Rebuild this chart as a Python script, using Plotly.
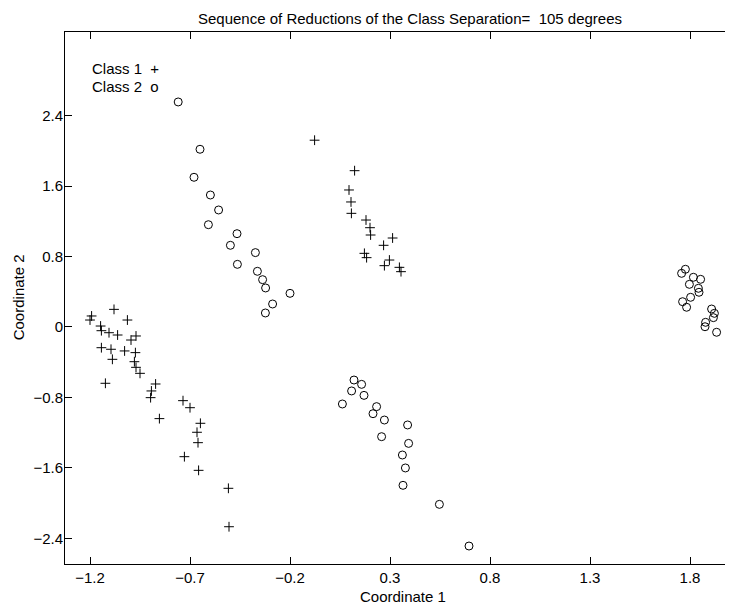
import plotly.graph_objects as go

# ---- data ----
class1_x = [-1.192, -1.2, -1.08, -1.013, -1.147, -1.143, -1.105, -1.062, -0.97, -0.995,
            -1.143, -1.095, -1.027, -0.973, -1.088, -0.978, -0.97, -0.95, -1.123, -0.872,
            -0.893, -0.897, -0.853, -0.735, -0.7, -0.648, -0.665, -0.66, -0.728, -0.657,
            -0.508, -0.505,
            -0.077, 0.123, 0.095, 0.105, 0.107, 0.18, 0.2, 0.203, 0.313, 0.268,
            0.172, 0.183, 0.297, 0.272, 0.347, 0.355]
class1_y = [0.125, 0.079, 0.2, 0.079, 0.011, -0.042, -0.065, -0.091, -0.102, -0.148,
            -0.235, -0.253, -0.272, -0.291, -0.367, -0.394, -0.458, -0.526, -0.639, -0.647,
            -0.726, -0.802, -1.04, -0.836, -0.916, -1.093, -1.195, -1.313, -1.472, -1.627,
            -1.831, -2.267,
            2.12, 1.774, 1.555, 1.419, 1.29, 1.214, 1.127, 1.044, 1.01, 0.927,
            0.836, 0.787, 0.76, 0.696, 0.677, 0.628]

class2_x = [-0.759, -0.65, -0.68, -0.598, -0.557, -0.608, -0.465, -0.498, -0.373, -0.463,
            -0.363, -0.337, -0.322, -0.2, -0.287, -0.323,
            0.12, 0.158, 0.108, 0.17, 0.062, 0.233, 0.215, 0.272, 0.388, 0.258,
            0.393, 0.362, 0.377, 0.365, 0.547, 0.695,
            1.777, 1.758, 1.817, 1.853, 1.797, 1.842, 1.845, 1.803, 1.763, 1.783,
            1.908, 1.922, 1.917, 1.878, 1.875, 1.933]
class2_y = [2.554, 2.017, 1.699, 1.498, 1.328, 1.161, 1.059, 0.927, 0.844, 0.711,
            0.632, 0.537, 0.443, 0.382, 0.261, 0.159,
            -0.602, -0.651, -0.726, -0.776, -0.874, -0.904, -0.984, -1.056, -1.112, -1.245,
            -1.321, -1.453, -1.6, -1.797, -2.013, -2.486,
            0.655, 0.609, 0.564, 0.541, 0.484, 0.439, 0.394, 0.337, 0.287, 0.224,
            0.204, 0.155, 0.106, 0.053, 0.003, -0.06]

x_ticks = [-1.2, -0.7, -0.2, 0.3, 0.8, 1.3, 1.8]
y_ticks = [-2.4, -1.6, -0.8, 0, 0.8, 1.6, 2.4]

title_text = "Sequence of Reductions of the Class Separation=  105 degrees"
legend_lines = ["Class 1  +", "Class 2  o"]
legend_y = [2.936, 2.735]

FONT = "Liberation Sans, Arial, Helvetica, sans-serif"

# page body has an 8px margin: figure pixel = screen pixel - 8
L, T, B = 57, 24, 51
PW, PH = 733 - L, 607 - T - B


def px_x(s):
    return (s - 8 - L) / PW


def px_y(s):
    return (607 - B - (s - 8)) / PH


fig = go.Figure()
fig.add_trace(go.Scatter(
    x=class1_x, y=class1_y, mode="markers", name="Class 1",
    marker=dict(symbol="cross-thin", size=7, line=dict(color="black", width=1), color="black"),
))
fig.add_trace(go.Scatter(
    x=class2_x, y=class2_y, mode="markers", name="Class 2",
    marker=dict(symbol="circle-open", size=8, line=dict(color="black", width=1), color="black"),
))

for txt, yy in zip(legend_lines, legend_y):
    fig.add_annotation(x=-1.2, y=yy, xref="x", yref="y", text=txt, showarrow=False,
                       xanchor="left", yanchor="middle",
                       font=dict(family=FONT, size=15, color="black"))

fig.add_annotation(x=px_x(410), y=px_y(8), xref="paper", yref="paper",
                   text=title_text, showarrow=False, xanchor="center", yanchor="top",
                   font=dict(family=FONT, size=15, color="black"))
fig.add_annotation(x=px_x(403), y=px_y(596.7), xref="paper", yref="paper",
                   text="Coordinate 1", showarrow=False, xanchor="center", yanchor="middle",
                   font=dict(family=FONT, size=15, color="black"))
fig.add_annotation(x=px_x(18.3), y=px_y(297), xref="paper", yref="paper",
                   text="Coordinate 2", showarrow=False, textangle=-90,
                   xanchor="center", yanchor="middle",
                   font=dict(family=FONT, size=15, color="black"))

fig.update_layout(
    width=733, height=607,
    margin=dict(l=L, r=0, t=T, b=B, pad=0),
    paper_bgcolor="white", plot_bgcolor="white",
    showlegend=False,
    font=dict(family=FONT, size=15, color="black"),
    xaxis=dict(range=[-1.325, 2.055], tickvals=x_ticks,
               ticktext=[f"{v:g}".replace("-", "\u2212") for v in x_ticks],
               ticks="inside", ticklen=7, tickwidth=1, tickcolor="black",
               showline=True, linecolor="black", linewidth=1, mirror="ticks",
               showgrid=False, zeroline=False, ticklabelstandoff=0,
               tickfont=dict(family=FONT, size=15, color="black")),
    yaxis=dict(range=[-2.690, 3.348], tickvals=y_ticks,
               ticktext=[f"{v:g}".replace("-", "\u2212") for v in y_ticks],
               ticks="inside", ticklen=7, tickwidth=1, tickcolor="black",
               showline=True, linecolor="black", linewidth=1, mirror=False,
               showgrid=False, zeroline=False, ticklabelstandoff=-2,
               tickfont=dict(family=FONT, size=15, color="black")),
)

fig.write_html("out.html")
